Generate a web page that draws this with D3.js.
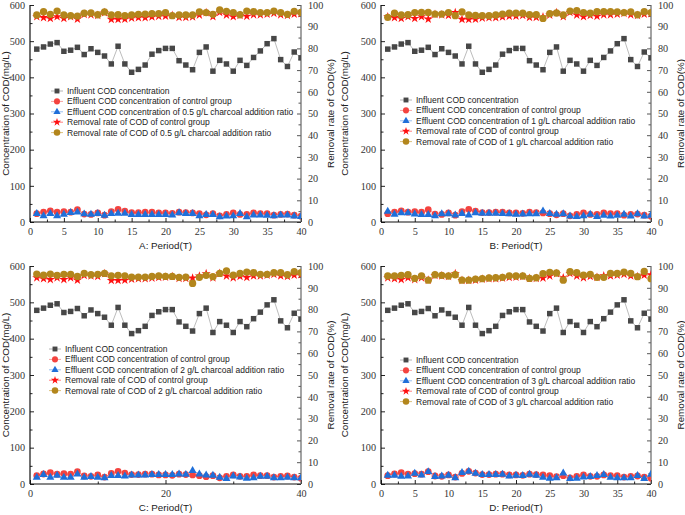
<!DOCTYPE html>
<html><head><meta charset="utf-8">
<script src="https://cdn.jsdelivr.net/npm/d3@7"></script>
<style>body{margin:0;background:#fff}svg{display:block}</style>
</head><body>
<svg id="c" width="685" height="515"></svg>
<script>
const periods = d3.range(1, 41);
const influent = [478,484,492,496,472,475,483,463,479,469,459,437,486,437,414,422,434,464,474,480,480,446,434,421,469,484,417,447,437,417,447,433,455,473,493,507,449,430,470,454];
const effluentControl = [23,27.5,31,27,28.5,27,34,22,21,25,19,29,35,30,26,26,27,27,25,25,24,27,26,25,23,20,23,17,21,25,21,21,25,23,23,19,21,22,19,16];
const removalControl = [94.6,94.2,93.8,94.6,93.8,94.6,93.5,95.7,95.5,95.2,96.5,93.4,93.4,93.5,94,94.2,94.2,94.5,94.8,94.9,95.2,94.3,94.3,94.5,95.4,96.5,94.6,96.6,95.4,94.6,95.2,94.8,95.5,95.5,95.8,96.2,95.5,95.2,95.8,96];
const effluent05 = [23,17,23,17,21,26,27,22,21,23,18,23,24,24,20,20,20,20,20,20,19,25,23,23,17,20,20,14,16,16.5,23,14,19,19,18,17,19,19,16,15];
const removal05 = [95.4,96.9,95.7,97.2,95.4,95.1,94.9,96.2,96.3,95.5,96.8,95.4,95.5,95.1,95.4,95.7,95.8,96,96,96.5,95.1,95.4,95.4,95.4,96.8,96.5,95.7,97.7,97.1,96.5,95.5,97.2,96.9,96.5,96.5,97.2,96.5,95.7,97.1,96.6];
const effluent1 = [29,21,25,25,21.6,20,20,17,22.5,22.5,19,23,19,25,24,24,24,23,22.5,21,21.6,22.5,22.5,30,23,21,22.5,16,15,17,21,15,18,16,18,21,16,22.5,16,18];
const removal1 = [94.3,96.2,95.4,95.5,96.5,96.6,96.6,95.8,95.8,96.5,95.1,96.8,95.4,95.2,95.1,95.1,95.4,95.8,96.2,96.2,96.2,95.5,95.5,93.8,96,96.3,95.4,97.2,97.4,96.5,96.2,96.9,96.9,96.9,96.8,96.5,96.8,95.5,96.9,96.5];
const effluent2 = [18,25.5,18,23.6,18,18,27,18,20,18,17,22.7,22.7,21.8,24.5,24.5,24.5,25.5,25.5,25.5,25.5,27,26,37,27,24.5,23.6,18,14.5,21.8,19,15.5,17,21,21,17,16.4,18,16.4,16.4];
const removal2 = [96.3,95.8,96.3,95.7,96.2,96.2,95.2,96.6,96,96.2,96.6,95.5,95.7,95.5,94.9,94.9,94.9,95.2,95.4,95.2,95.2,94.8,94.9,92,94.8,95.7,95.1,96.6,97.7,95.8,96.6,97.2,96.9,96.2,96.2,96.9,96.9,96,97.4,96.9];
const effluent3 = [23.6,23.6,21,21.8,29,24.5,33.6,20,21.8,23.6,17,31,34.5,29,25.5,25.5,25.5,26.4,21.8,23.6,22.7,26.4,23.6,18,15.5,17,30,14.5,15.5,19,20,22.7,25.5,18,17,16.4,16.4,22.7,14.5,26.4];
const removal3 = [95.4,95.4,95.7,96,94.3,95.5,93.5,96,95.7,95.4,96,93.5,93.5,94,94.2,94.5,94.6,94.8,95.5,95.4,95.4,94.3,94.6,96.5,97.1,96.8,93.5,97.4,96.9,95.8,96.2,94.8,94.8,96.6,96.6,97.2,96.6,95.1,97.5,94.2];
const panelLetters = ["A","B","C","D"];
const doseLabels = ["0.5","1","2","3"];
const leftTicks = [0,100,200,300,400,500,600];
const rightTicks = [0,10,20,30,40,50,60,70,80,90,100];
const xTicksFine = [0,5,10,15,20,25,30,35,40];
const xTicksCoarse = [0,20,40];

const panels = [
  {left:30,right:301,top:5,bottom:222,eff:effluent05,rem:removal05,xt:xTicksFine,xminor:2.5,lg:{mx:57,tx:67,y:91},ltx:5},
  {left:381,right:651,top:5,bottom:222,eff:effluent1,rem:removal1,xt:xTicksFine,xminor:2.5,lg:{mx:406,tx:416,y:100},ltx:344},
  {left:30,right:301,top:266,bottom:484,eff:effluent2,rem:removal2,xt:xTicksCoarse,xminor:10,lg:{mx:55,tx:65,y:349},ltx:5},
  {left:381,right:651,top:266,bottom:484,eff:effluent3,rem:removal3,xt:xTicksFine,xminor:2.5,lg:{mx:406,tx:416,y:360},ltx:344}
];

const C = {
  infM:"#474747", infL:"#b4b4b4",
  redM:"#f4433f", redL:"#f7a3a0",
  blueM:"#1f6fd9", blueL:"#9cc0ee",
  starM:"#ff1010", starL:"#ff8080",
  brM:"#b3861c", brL:"#dcc27e"
};
const svg = d3.select("#c");
const defs = svg.append("defs");
const serif = "'Liberation Serif','Times New Roman',serif";
const sans = "'Liberation Sans',Arial,sans-serif";

panels.forEach((p, i) => {
  const x = d3.scaleLinear().domain([0,40]).range([p.left,p.right]);
  const yL = d3.scaleLinear().domain([0,600]).range([p.bottom,p.top]);
  const yR = d3.scaleLinear().domain([0,100]).range([p.bottom,p.top]);
  const g = svg.append("g");
  const clipId = "clip"+i;
  defs.append("clipPath").attr("id",clipId).append("rect")
    .attr("x",p.left).attr("y",p.top-6).attr("width",p.right-p.left).attr("height",p.bottom-p.top+12);

  const xMinor = d3.range(0,40.001,p.xminor).filter(v=>!p.xt.includes(v));
  const ax = g.append("g").attr("transform",`translate(0,${p.bottom})`)
    .call(d3.axisBottom(x).tickValues(p.xt).tickSize(-4).tickPadding(6).tickFormat(d3.format("d")));
  ax.append("g").call(d3.axisBottom(x).tickValues(xMinor).tickSize(-2.5).tickFormat(""));
  const al = g.append("g").attr("transform",`translate(${p.left},0)`)
    .call(d3.axisLeft(yL).tickValues(leftTicks).tickSize(-4).tickPadding(5));
  al.append("g").call(d3.axisLeft(yL).tickValues(d3.range(50,600,100)).tickSize(-2.5).tickFormat(""));
  const ar = g.append("g").attr("transform",`translate(${p.right},0)`)
    .call(d3.axisRight(yR).tickValues(rightTicks).tickSize(-4).tickPadding(7));
  ar.append("g").call(d3.axisRight(yR).tickValues(d3.range(5,100,10)).tickSize(-2.5).tickFormat(""));
  [ax,al,ar].forEach(a=>{
    a.selectAll("text").attr("font-family",serif).attr("font-size",10.2).attr("fill","#333");
    a.selectAll("path.domain").remove();
    a.selectAll("line").attr("stroke","#222");
  });
  ar.selectAll("line").attr("stroke","#555");
  g.append("line").attr("x1",p.left).attr("x2",p.left).attr("y1",p.top).attr("y2",p.bottom).attr("stroke","#111").attr("stroke-width",1.2);
  g.append("line").attr("x1",p.left).attr("x2",p.right).attr("y1",p.bottom).attr("y2",p.bottom).attr("stroke","#111").attr("stroke-width",1.2);
  g.append("line").attr("x1",p.right).attr("x2",p.right).attr("y1",p.top).attr("y2",p.bottom).attr("stroke","#666").attr("stroke-width",1.2);

  g.append("text").attr("transform",`translate(${p.ltx+4},${(p.top+p.bottom)/2}) rotate(-90)`)
    .attr("text-anchor","middle").attr("font-family",sans).attr("font-size",9.8).attr("fill","#222")
    .text("Concentration of COD(mg/L)");
  g.append("text").attr("transform",`translate(${p.right+33},${(p.top+p.bottom)/2}) rotate(-90)`)
    .attr("text-anchor","middle").attr("font-family",sans).attr("font-size",9.8).attr("fill","#222")
    .text("Removal rate of COD(%)");
  g.append("text").attr("x",(p.left+p.right)/2).attr("y",p.bottom+27)
    .attr("text-anchor","middle").attr("font-family",sans).attr("font-size",9.8).attr("fill","#222")
    .text(panelLetters[i]+": Period(T)");

  const plot = g.append("g").attr("clip-path",`url(#${clipId})`);
  const series = [
    {v:influent, y:yL, sym:d3.symbolSquare, size:30, m:C.infM, l:C.infL},
    {v:effluentControl, y:yL, sym:d3.symbolCircle, size:36, m:C.redM, l:C.redL},
    {v:p.eff, y:yL, sym:d3.symbolTriangle, size:28, m:C.blueM, l:C.blueL},
    {v:removalControl, y:yR, sym:d3.symbolStar, size:26, m:C.starM, l:C.starL},
    {v:p.rem, y:yR, sym:d3.symbolCircle, size:42, m:C.brM, l:C.brL}
  ];
  series.forEach(s=>{
    const line = d3.line().x((d,j)=>x(periods[j])).y(d=>s.y(d));
    plot.append("path").attr("d",line(s.v)).attr("fill","none").attr("stroke",s.l).attr("stroke-width",0.9);
    plot.selectAll(null).data(s.v).join("path")
      .attr("transform",(d,j)=>`translate(${x(periods[j])},${s.y(d)})`)
      .attr("d",d3.symbol().type(s.sym).size(s.size)).attr("fill",s.m);
  });

  const labels = [
    "Influent COD concentration",
    "Effluent COD concentration of control group",
    `Effluent COD concentration of ${doseLabels[i]} g/L charcoal addition ratio`,
    "Removal rate of COD of control group",
    `Removal rate of COD of ${doseLabels[i]} g/L charcoal addition ratio`
  ];
  series.forEach((s,k)=>{
    const yy = p.lg.y + k*10.4;
    g.append("line").attr("x1",p.lg.mx-6).attr("x2",p.lg.mx+6).attr("y1",yy).attr("y2",yy).attr("stroke",s.l).attr("stroke-width",1);
    g.append("path").attr("transform",`translate(${p.lg.mx},${yy})`).attr("d",d3.symbol().type(s.sym).size(s.size*0.8)).attr("fill",s.m);
    g.append("text").attr("x",p.lg.tx).attr("y",yy).attr("dy","0.35em").attr("font-family",sans).attr("font-size",8.5).attr("fill","#222").text(labels[k]);
  });
});
</script>
</body></html>
